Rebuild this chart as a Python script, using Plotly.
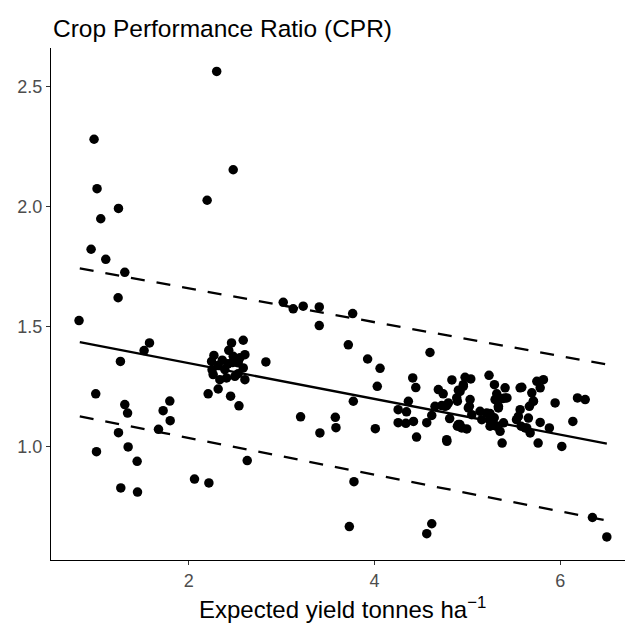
import plotly.graph_objects as go

# Observed points: expected yield (t/ha) and Crop Performance Ratio
yield_x = [
    0.817, 0.979, 1.011, 1.051, 0.947, 1.105, 1.242, 1.31, 1.238, 1.263,
    0.997, 1.31, 1.34, 1.242, 1.005, 1.346, 1.443, 1.267, 1.447, 1.518,
    1.576, 1.673, 1.723, 1.795, 1.799,
    2.061, 2.216, 2.629, 2.197, 2.478, 2.30, 2.83,
    2.208, 2.316, 2.45, 2.54, 2.586, 2.46, 2.43, 2.27, 2.604, 2.478,
    2.245, 2.532, 2.316, 2.25, 2.388, 2.586, 2.532, 2.262, 2.406, 2.604,
    2.334, 2.496, 2.47, 2.36, 2.55, 2.42,
    3.017, 3.124, 3.232, 3.405, 3.405, 3.765, 3.718, 3.926, 4.06, 4.03,
    3.772, 3.204, 3.578, 3.585, 3.412, 4.009, 3.779, 3.729, 4.617, 4.563,
    4.598, 4.412, 4.445, 4.365, 4.255, 4.345, 4.255, 4.338, 4.42, 4.453,
    4.563, 4.617, 4.652, 4.724, 4.778, 4.688, 4.74, 4.78, 4.834, 4.81,
    4.893, 4.886, 4.922, 4.957, 4.976, 5.037, 4.893, 5.03, 5.022, 4.903,
    4.94, 4.994, 5.048, 5.137, 5.209, 5.156, 5.24, 5.29, 5.245, 5.31,
    5.353, 5.375, 5.234, 5.292, 5.317, 5.407, 5.335, 5.299, 5.38, 5.407,
    5.569, 5.749, 5.82, 5.785, 5.695, 5.712, 5.669, 5.569, 5.55, 5.658,
    5.785, 5.884, 5.946, 6.187, 6.27, 6.137, 5.763, 6.018, 5.623, 5.39,
    5.245, 6.348, 6.503,
    4.904, 4.957, 4.796, 4.76, 5.011, 5.335, 5.427, 4.92, 5.53, 5.58,
    4.778, 5.712, 5.587, 5.64, 5.677,
]
cpr_y = [
    1.525, 2.28, 2.074, 1.949, 1.822, 1.78, 1.992, 1.726, 1.62, 1.355,
    1.22, 1.175, 1.14, 1.058, 0.979, 0.999, 0.939, 0.828, 0.811, 1.40,
    1.432, 1.072, 1.15, 1.19, 1.108,
    0.865, 0.849, 0.942, 2.026, 2.153, 2.5625, 1.353,
    1.22, 1.24, 1.21, 1.17, 1.443, 1.432, 1.401, 1.38, 1.383, 1.376,
    1.355, 1.349, 1.3375, 1.32, 1.321, 1.328, 1.304, 1.30, 1.286, 1.279,
    1.279, 1.293, 1.35, 1.36, 1.37, 1.345,
    1.601, 1.574, 1.585, 1.582, 1.504, 1.554, 1.424, 1.365, 1.326, 1.251,
    1.189, 1.124, 1.122, 1.079, 1.057, 1.075, 0.854, 0.667, 0.679, 0.6375,
    1.392, 1.286, 1.246, 1.189, 1.154, 1.145, 1.10, 1.097, 1.105, 1.04,
    1.10, 1.13, 1.168, 1.171, 1.171, 1.2375, 1.22, 1.022, 1.278, 1.117,
    1.085, 1.203, 1.23, 1.251, 1.289, 1.282, 1.189, 1.196, 1.168, 1.092,
    1.078, 1.074, 1.133, 1.147, 1.14, 1.1125, 1.11, 1.12, 1.085, 1.085,
    1.064, 1.015, 1.297, 1.258, 1.22, 1.245, 1.168, 1.196, 1.20, 1.203,
    1.245, 1.272, 1.279, 1.245, 1.224, 1.189, 1.168, 1.154, 1.126, 1.119,
    1.101, 1.078, 1.182, 1.203, 1.196, 1.105, 1.015, 1.001, 1.078, 1.099,
    1.138, 0.705, 0.624,
    1.235, 1.258, 1.182, 1.168, 1.161, 1.161, 1.203, 1.092, 1.1125, 1.085,
    1.029, 1.19, 1.247, 1.078, 1.057,
]

# Fitted regression line and prediction interval (end points)
fit_x = [0.825, 6.503]
fit_y = [1.435, 1.0125]
upper_y = [1.742, 1.342]
lower_y = [1.126, 0.692]

x_ticks = [2, 4, 6]
y_ticks = [1.0, 1.5, 2.0, 2.5]
y_tick_labels = ["1.0", "1.5", "2.0", "2.5"]

FONT = "Liberation Sans, Arial, sans-serif"

fig = go.Figure()
fig.add_trace(go.Scatter(x=yield_x, y=cpr_y, mode="markers",
                         marker=dict(color="black", size=9.5, line=dict(width=0)),
                         showlegend=False, hoverinfo="x+y"))
fig.add_trace(go.Scatter(x=fit_x, y=fit_y, mode="lines",
                         line=dict(color="black", width=2.3), showlegend=False))
fig.add_trace(go.Scatter(x=fit_x, y=upper_y, mode="lines",
                         line=dict(color="black", width=2.3, dash="14px,12px"),
                         showlegend=False))
fig.add_trace(go.Scatter(x=fit_x, y=lower_y, mode="lines",
                         line=dict(color="black", width=2.3, dash="14px,12px"),
                         showlegend=False))

axis_common = dict(showgrid=False, zeroline=False, showline=True,
                   linecolor="black", linewidth=1.2, ticks="outside",
                   ticklen=4, tickwidth=1.1, tickcolor="#333333",
                   automargin=False,
                   tickfont=dict(family=FONT, size=18, color="#4D4D4D"))

fig.update_xaxes(range=[0.515, 6.785], tickvals=x_ticks,
                 ticktext=[str(v) for v in x_ticks], **axis_common)
fig.update_yaxes(range=[0.528, 2.66], tickvals=y_ticks,
                 ticktext=y_tick_labels, **axis_common)

fig.update_layout(
    width=633, height=625,
    margin=dict(l=43, r=8, t=40, b=73),
    plot_bgcolor="white", paper_bgcolor="white",
    font=dict(family=FONT, color="black"),
    title=dict(text="Crop Performance Ratio (CPR)", x=45 / 633, xanchor="left",
               xref="container", y=1 - 20 / 625, yanchor="middle",
               yref="container",
               font=dict(family=FONT, size=24.5, color="black")),
    annotations=[dict(text="Expected yield tonnes ha<sup>\u22121</sup>",
                      xref="paper", yref="paper", x=0.5, y=-0.094,
                      xanchor="center", yanchor="middle", showarrow=False,
                      font=dict(family=FONT, size=24, color="black"))],
)

fig.write_html("out.html")
